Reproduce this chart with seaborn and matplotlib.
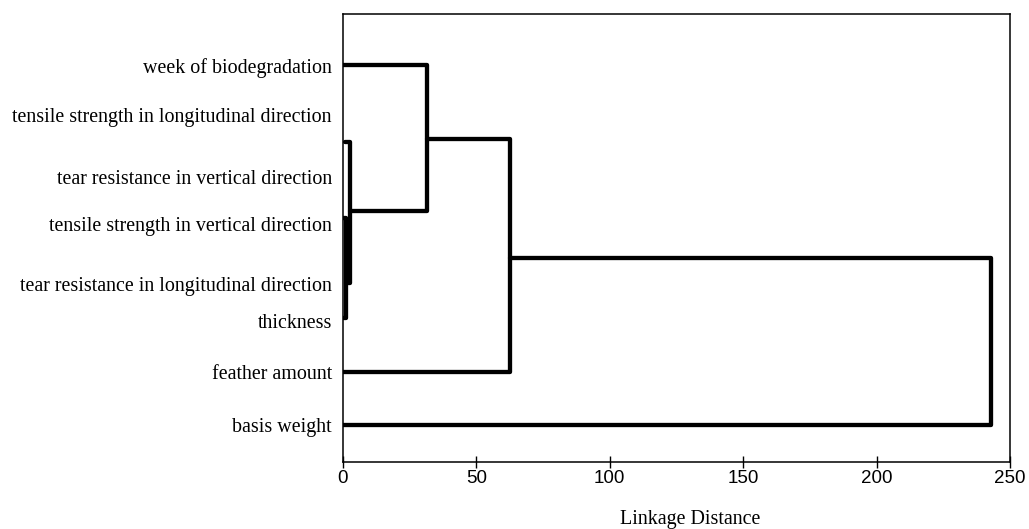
import numpy as np
import pandas as pd
import matplotlib
matplotlib.use("Agg")
import matplotlib.pyplot as plt
import seaborn as sns

# =============================================================================
# DATA
# =============================================================================
variables = [
    "week of biodegradation",
    "tensile strength in longitudinal direction",
    "tear resistance in vertical direction",
    "tensile strength in vertical direction",
    "tear resistance in longitudinal direction",
    "thickness",
    "feather amount",
    "basis weight",
]
# label positions along the leaf axis (0 = bottom of plot, 9 = top)
label_pos = [7.97, 6.97, 5.72, 4.78, 3.57, 2.83, 1.81, 0.74]

# each link: upper leg (y, distance of child), lower leg (y, distance of child), merge distance
link_y_upper = [4.90, 6.43, 7.97, 6.49, 4.10]
link_x_upper = [0.0, 0.8, 0.0, 31.4, 62.5]
link_y_lower = [2.89, 3.59, 5.04, 1.81, 0.74]
link_x_lower = [0.0, 1.1, 2.6, 0.0, 0.0]
link_height = [1.1, 2.6, 31.4, 62.5, 242.9]

x_ticks = [0, 50, 100, 150, 200, 250]

# =============================================================================
# BUILD SEGMENTS
# =============================================================================
rows = []
for i in range(len(link_height)):
    pts = [
        (link_x_upper[i], link_y_upper[i]),
        (link_height[i], link_y_upper[i]),
        (link_height[i], link_y_lower[i]),
        (link_x_lower[i], link_y_lower[i]),
    ]
    for order, (x, y) in enumerate(pts):
        rows.append({"link": i, "order": order, "distance": x, "pos": y})
df = pd.DataFrame(rows)

# =============================================================================
# PLOT
# =============================================================================
sns.set_style("ticks")
plt.rcParams["font.family"] = ["Liberation Sans", "DejaVu Sans"]
plt.rcParams["text.color"] = "black"

fig = plt.figure(figsize=(10.29, 5.29), dpi=100)
ax = fig.add_axes([0.3333, 0.1267, 0.6482, 0.8468])

sns.lineplot(data=df, x="distance", y="pos", units="link", estimator=None,
             sort=False, color="black", linewidth=3.1, ax=ax, legend=False)

ax.set_xlim(0, 250)
ax.set_ylim(0, 9)
ax.set_xticks(x_ticks)
ax.set_xticklabels([str(t) for t in x_ticks], fontsize=13.5)
ax.set_yticks(label_pos)
ax.set_yticklabels(variables, fontsize=14.4, family="Liberation Serif")

ax.tick_params(axis="x", direction="inout", length=8, width=1.0, pad=1.5,
               colors="black", labelcolor="black")
ax.tick_params(axis="y", length=0, pad=8, labelcolor="black")

for side in ["left", "right", "top", "bottom"]:
    ax.spines[side].set_visible(True)
    ax.spines[side].set_linewidth(1.1)
    ax.spines[side].set_color("black")

ax.set_ylabel("")
ax.set_xlabel("Linkage Distance", fontsize=14.4, family="Liberation Serif",
              color="black")
ax.xaxis.set_label_coords(0.52, -0.107)

fig.savefig("out.png", dpi=100)
plt.close(fig)
